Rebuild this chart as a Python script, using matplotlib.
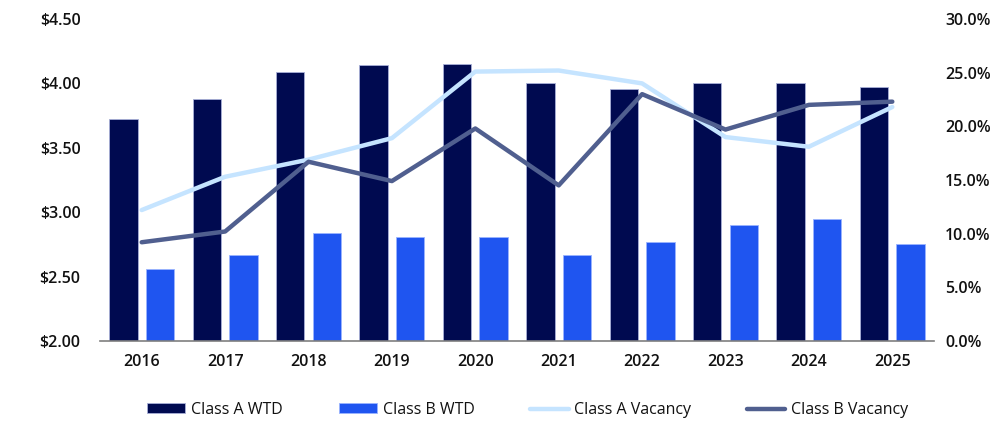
import matplotlib
matplotlib.use("Agg")
import matplotlib.pyplot as plt
import numpy as np
from matplotlib.ticker import FuncFormatter, MultipleLocator

years = ["2016", "2017", "2018", "2019", "2020", "2021", "2022", "2023", "2024", "2025"]
class_a_wtd = [3.72, 3.88, 4.09, 4.14, 4.15, 4.00, 3.96, 4.00, 4.00, 3.97]
class_b_wtd = [2.56, 2.67, 2.84, 2.81, 2.81, 2.67, 2.77, 2.90, 2.95, 2.75]
class_a_vac = [12.2, 15.3, 16.9, 18.9, 25.1, 25.2, 24.0, 19.0, 18.1, 21.8]
class_b_vac = [9.2, 10.2, 16.7, 14.9, 19.8, 14.5, 23.0, 19.7, 22.0, 22.3]

plt.rcParams['font.family'] = ['Open Sans', 'DejaVu Sans']

c_a = "#000a50"
c_b = "#1f55f0"
c_av = "#c5e4ff"
c_bv = "#505f8f"

fig = plt.figure(figsize=(10.03, 4.23), dpi=100)
ax = fig.add_axes([100/1003, 1-341/423, 834/1003, 322/423])
ax2 = ax.twinx()

x = np.arange(len(years))
w = 0.34
ax.bar(x - 0.05 - w/2, class_a_wtd, w, color=c_a, edgecolor="#a8b0d8", linewidth=0.6, label="Class A WTD", zorder=2)
ax.bar(x + 0.05 + w/2, class_b_wtd, w, color=c_b, edgecolor="#9ab4ff", linewidth=0.6, label="Class B WTD", zorder=2)
ax.set_ylim(2.0, 4.5)
ax.set_xlim(-0.5, len(years) - 0.5)
ax.yaxis.set_major_locator(MultipleLocator(0.5))
ax.yaxis.set_major_formatter(FuncFormatter(lambda v, p: f"${v:.2f}"))

ax2.plot(x, class_a_vac, color=c_av, lw=3.2, label="Class A Vacancy", solid_capstyle="round", solid_joinstyle="round", zorder=3)
ax2.plot(x, class_b_vac, color=c_bv, lw=3.2, label="Class B Vacancy", solid_capstyle="round", solid_joinstyle="round", zorder=4)
ax2.set_ylim(0, 30)
ax2.yaxis.set_major_locator(MultipleLocator(5))
ax2.yaxis.set_major_formatter(FuncFormatter(lambda v, p: f"{v:.1f}%"))

ax.set_xticks(x)
ax.set_xticklabels(years)

for a in (ax, ax2):
    for s in a.spines.values():
        s.set_visible(False)
    a.tick_params(length=0, labelsize=11.5, colors="#111111")
    for lab in a.get_yticklabels() + a.get_xticklabels():
        lab.set_fontweight("semibold")
ax.spines["bottom"].set_visible(True)
ax.spines["bottom"].set_color("#7f7f7f")
ax.spines["bottom"].set_linewidth(1.2)
ax.tick_params(axis="x", pad=9)
ax.tick_params(axis="y", pad=14)
ax2.tick_params(axis="y", pad=8)

h1, lb1 = ax.get_legend_handles_labels()
h2, lb2 = ax2.get_legend_handles_labels()
leg = fig.legend(h1 + h2, lb1 + lb2, loc="center", bbox_to_anchor=(0.526, 1-410/423), ncol=4,
                 frameon=False, fontsize=11.5, handlelength=2.4, handleheight=0.6, columnspacing=3.5, handletextpad=0.35)
for t in leg.get_texts():
    t.set_color("#111111")

fig.savefig("out.png", dpi=100)
